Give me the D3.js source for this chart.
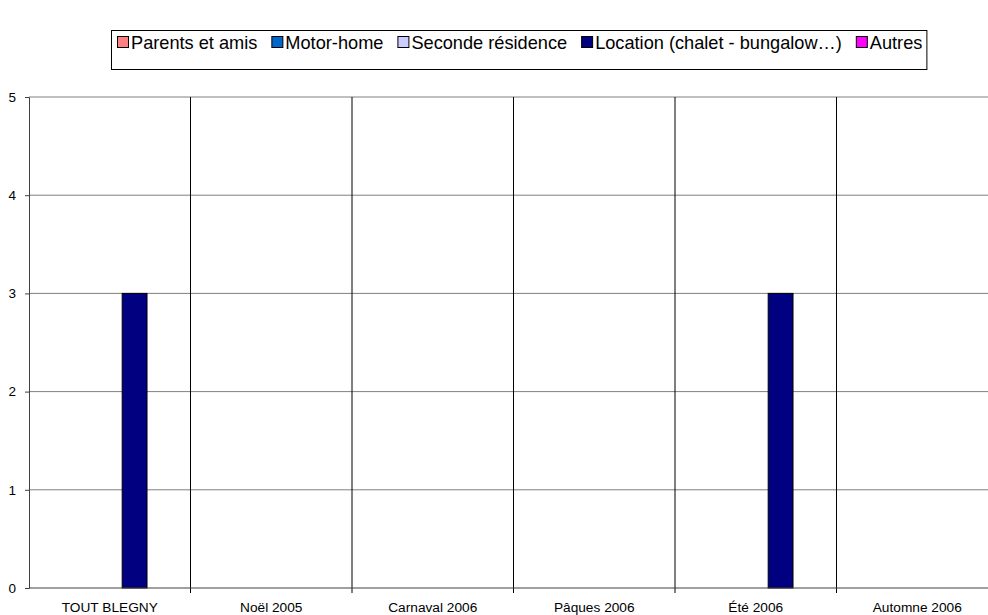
<!DOCTYPE html>
<meta charset="utf-8">
<title>Hébergement</title>
<body style="margin:0;background:#fff">
<style>
body { font-family: "Liberation Sans", Arial, sans-serif; }
text { font-family: "Liberation Sans", Arial, sans-serif; }
.tick text { fill: #000; }
</style>
<script src="https://d3js.org/d3.v7.min.js"></script>
<script>
var categories = ["TOUT BLEGNY", "Noël 2005", "Carnaval 2006", "Pâques 2006", "Été 2006", "Automne 2006"];
var seriesNames = ["Parents et amis", "Motor-home", "Seconde résidence", "Location (chalet - bungalow…)", "Autres"];
var seriesColors = ["#ff8080", "#0066cc", "#ccccff", "#000080", "#ff00ff"];
var parentsAmis = [0, 0, 0, 0, 0, 0];
var motorHome = [0, 0, 0, 0, 0, 0];
var secondeResidence = [0, 0, 0, 0, 0, 0];
var location_ = [3, 0, 0, 0, 3, 0];
var autres = [0, 0, 0, 0, 0, 0];
var yTicks = [0, 1, 2, 3, 4, 5];

var values = [parentsAmis, motorHome, secondeResidence, location_, autres];

var W = 988, H = 615;
var margin = {top: 97, left: 29, bottom: 27};
var plotW = 969, plotH = H - margin.top - margin.bottom;

var svg = d3.select("body").append("svg")
  .attr("width", W)
  .attr("height", H);

var x = d3.scaleBand().domain(categories).range([margin.left, margin.left + plotW]).padding(0);
var xs = d3.scaleBand().domain(d3.range(seriesNames.length)).range([0, x.bandwidth()])
  .paddingInner(0).paddingOuter(0.75);
var y = d3.scaleLinear().domain([0, 5]).range([margin.top + plotH, margin.top]);

// horizontal gridlines
svg.append("g").selectAll("line")
  .data(yTicks.slice(1))
  .enter().append("line")
    .attr("x1", margin.left).attr("x2", margin.left + plotW)
    .attr("y1", d => y(d)).attr("y2", d => y(d))
    .attr("stroke", "#808080").attr("stroke-width", 1);

// vertical category separators
svg.append("g").selectAll("line")
  .data(categories.slice(1))
  .enter().append("line")
    .attr("x1", d => x(d)).attr("x2", d => x(d))
    .attr("y1", margin.top).attr("y2", y(0) + 5)
    .attr("stroke", "#000").attr("stroke-width", 1);

// bars
var rows = [];
values.forEach(function(s, i) {
  s.forEach(function(v, j) { if (v > 0) rows.push({s: i, c: categories[j], v: v}); });
});
svg.append("g").selectAll("rect")
  .data(rows)
  .enter().append("rect")
    .attr("x", d => x(d.c) + xs(d.s))
    .attr("y", d => y(d.v))
    .attr("width", xs.bandwidth())
    .attr("height", d => y(0) - y(d.v))
    .attr("fill", d => seriesColors[d.s])
    .attr("stroke", "#000").attr("stroke-width", 1);

// y axis
var yAxis = svg.append("g")
  .attr("transform", "translate(" + margin.left + ",0)")
  .call(d3.axisLeft(y).tickValues(yTicks).tickFormat(d3.format("d")).tickSize(4).tickPadding(9));
yAxis.select(".domain").attr("stroke", "#404040");
yAxis.selectAll(".tick line").attr("stroke", "#404040");
yAxis.selectAll("text").style("font-size", "13.5px").style("font-family", "'Liberation Sans', Arial, sans-serif");

// x axis line
svg.append("line")
  .attr("x1", margin.left).attr("x2", margin.left + plotW)
  .attr("y1", y(0)).attr("y2", y(0))
  .attr("stroke", "#404040");

// category labels
svg.append("g").selectAll("text")
  .data(categories)
  .enter().append("text")
    .attr("x", d => x(d) + x.bandwidth() / 2)
    .attr("y", y(0) + 24)
    .attr("text-anchor", "middle")
    .style("font-size", "13.7px")
    .text(d => d);

// legend
var leg = svg.append("g");
var legBox = leg.append("rect")
  .attr("fill", "#fff").attr("stroke", "#000").attr("stroke-width", 1);
var lx = 117;
seriesNames.forEach(function(name, i) {
  leg.append("rect")
    .attr("x", lx + 0.5).attr("y", 36.5)
    .attr("width", 11).attr("height", 11)
    .attr("fill", seriesColors[i]).attr("stroke", "#000");
  var t = leg.append("text")
    .attr("x", lx + 14).attr("y", 48.5)
    .style("font-size", "18.2px")
    .text(name);
  lx += 14 + t.node().getComputedTextLength() + 14;
});
legBox.attr("x", 111.5).attr("y", 30.5).attr("width", lx - 14 + 4 - 111).attr("height", 39);
</script>
</body>
